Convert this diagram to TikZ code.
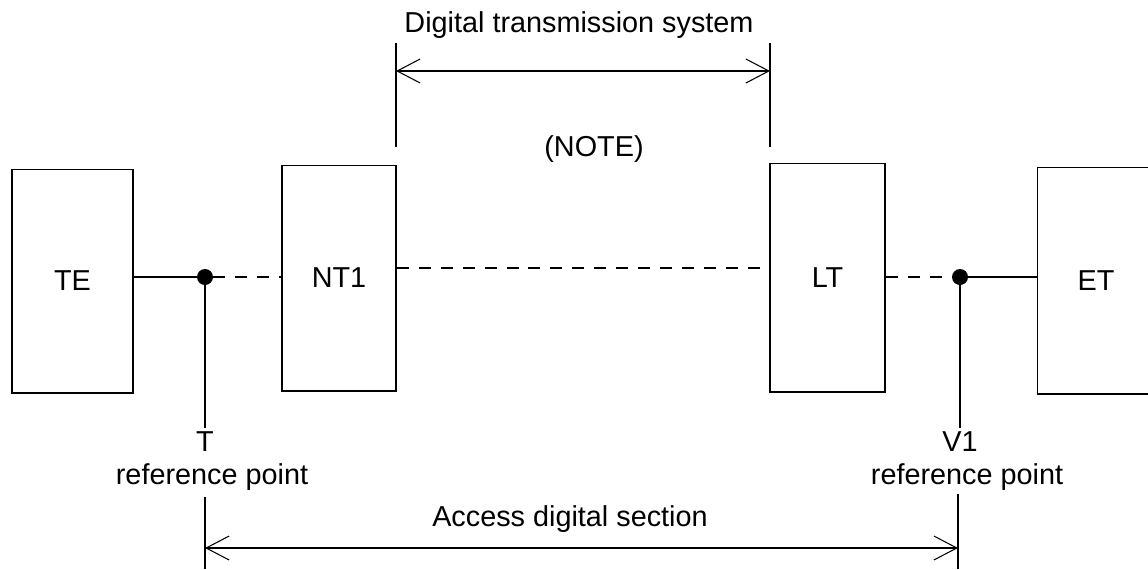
\documentclass[tikz,border=0pt]{standalone}
\usepackage{fontspec}
\setmainfont{Liberation Sans}
\usetikzlibrary{arrows.meta}
\tikzset{
  lbl/.style={font=\fontsize{16.4}{19.7}\selectfont, inner sep=2pt},
  unit/.style={lbl, draw, line width=0.6pt},
  dot/.style={circle, fill, inner sep=0pt, minimum size=0.32cm},
  wire/.style={line width=0.6pt},
  dashwire/.style={wire, dash pattern=on 0.24cm off 0.2cm},
  span/.style={wire, {Straight Barb[length=0.46cm,width=0.48cm]}-{Straight Barb[length=0.46cm,width=0.48cm]}}
}
\begin{document}
\begin{tikzpicture}[x=0.02cm, y=-0.02cm]
        \useasboundingbox (0,0) rectangle (1148,569);
        \clip (0,0) rectangle (1148,569);
        % equipment
        \node[unit, minimum width=2.42cm, minimum height=4.48cm] (te) at (72.5,281) {TE};
        \node[unit, minimum width=2.28cm, minimum height=4.52cm] (nt1) at (339,278) {NT1};
        \node[unit, minimum width=2.30cm, minimum height=4.58cm] (lt) at (827.5,277.5) {LT};
        \node[unit, minimum width=2.36cm, minimum height=4.54cm] (et) at (1096,280.5) {ET};
        % reference points
        \node[dot] (tp) at (205,277) {};
        \node[dot] (vp) at (960,277) {};
        \coordinate (line) at (580,268);
        \draw[wire] (te.east |- tp) -- (tp);
        \draw[dashwire] (tp) -- (nt1.west |- tp);
        \draw[dashwire] (nt1.east |- line) -- (lt.west |- line);
        \draw[dashwire] (lt.east |- vp) -- (vp);
        \draw[wire] (vp) -- (et.west |- vp);
        % labels under the points
        \node[lbl] (tname) at (205,442) {T};
        \node[lbl] (tref) at (212,477) {reference point};
        \node[lbl] (vname) at (960,442) {V1};
        \node[lbl] (vref) at (967,477) {reference point};
        \draw[wire] (tp) -- (tname.north);
        \draw[wire] (vp) -- (vname.north);
        % access digital section
        \coordinate (ta) at (205,497);
        \coordinate (tb) at (205,569);
        \coordinate (va) at (958,494);
        \coordinate (vb) at (958,569);
        \draw[wire] (ta) -- (tb);
        \draw[wire] (va) -- (vb);
        \coordinate (acc) at (0,548);
        \draw[span] (ta |- acc) -- (va |- acc);
        \node[lbl] (access) at (570,519) {Access digital section};
        % digital transmission system
        \coordinate (sa) at (396,43);
        \coordinate (sb) at (396,147);
        \coordinate (sc) at (770,43);
        \coordinate (sd) at (770,147);
        \draw[wire] (sa) -- (sb);
        \draw[wire] (sc) -- (sd);
        \coordinate (sys) at (0,71);
        \draw[span] (sa |- sys) -- (sc |- sys);
        \node[lbl] (dts) at (579,25) {Digital transmission system};
        \node[lbl] (note) at (594,149) {(NOTE)};
\end{tikzpicture}
\end{document}
